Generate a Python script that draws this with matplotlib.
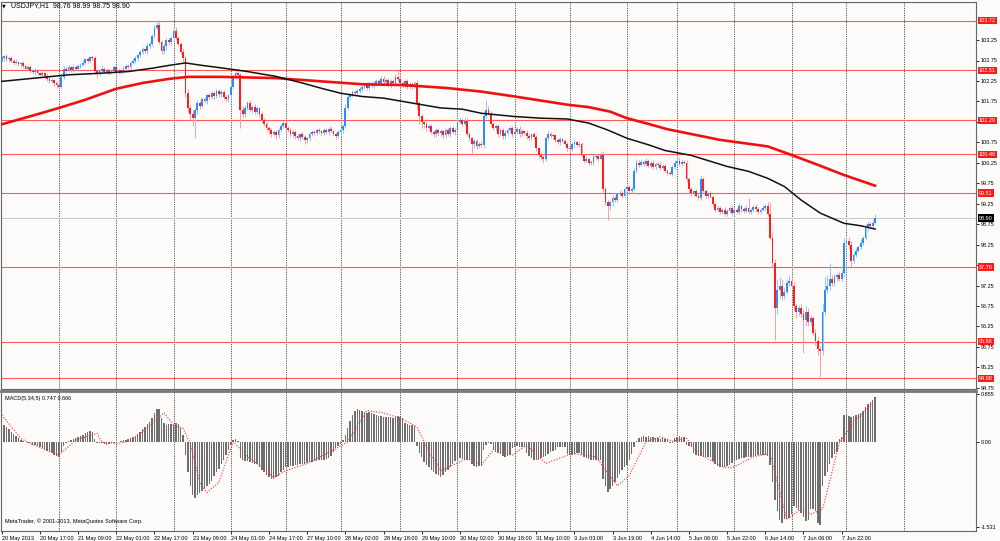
import matplotlib
matplotlib.use("Agg")
import matplotlib.pyplot as plt
from matplotlib.transforms import blended_transform_factory
import numpy as np

plt.rcParams['font.family'] = ['Liberation Sans', 'DejaVu Sans']

# USDJPY H1, 20 May - 7 Jun 2013, one value per hourly bar
first_open = 102.76
closes = [
    102.80, 102.85, 102.78, 102.82, 102.75, 102.70, 102.72, 102.66, 102.68, 102.62, 102.55, 102.58, 102.50, 102.46, 102.52, 102.44,
    102.40, 102.45, 102.38, 102.30, 102.25, 102.28, 102.20, 102.15, 102.10, 102.35, 102.55, 102.50, 102.58, 102.52, 102.60, 102.55,
    102.62, 102.65, 102.70, 102.78, 102.75, 102.83, 102.80, 102.50, 102.42, 102.50, 102.55, 102.48, 102.52, 102.45, 102.50, 102.58,
    102.46, 102.52, 102.48, 102.55, 102.62, 102.58, 102.70, 102.75, 102.80, 102.88, 102.95, 103.02, 102.98, 103.10, 103.15, 103.35,
    103.55, 103.62, 103.20, 102.98, 103.10, 103.25, 103.20, 103.30, 103.48, 103.30, 103.15, 102.95, 102.80, 101.95, 101.60, 101.45,
    101.35, 101.55, 101.72, 101.65, 101.80, 101.75, 101.90, 101.85, 101.95, 101.88, 102.00, 101.92, 101.98, 101.85, 101.80, 101.90,
    102.10, 102.35, 102.45, 102.40, 101.55, 101.45, 101.60, 101.70, 101.55, 101.62, 101.50, 101.58, 101.45, 101.30, 101.20, 101.10,
    101.05, 100.95, 101.00, 100.92, 101.05, 101.15, 101.22, 101.10, 101.05, 100.95, 101.00, 100.90, 100.85, 100.95, 100.88, 100.80,
    100.85, 100.95, 101.00, 100.98, 101.05, 101.02, 100.98, 101.05, 101.00, 101.08, 101.02, 100.95, 100.90, 101.00, 101.05, 101.15,
    101.60, 101.85, 101.90, 101.98, 101.95, 102.00, 102.05, 102.10, 102.15, 102.08, 102.20, 102.12, 102.18, 102.25, 102.20, 102.30,
    102.22, 102.28, 102.15, 102.25, 102.20, 102.35, 102.30, 102.20, 102.15, 102.25, 102.10, 102.18, 102.12, 102.20, 101.70, 101.40,
    101.25, 101.20, 101.10, 101.15, 101.00, 100.95, 101.05, 100.98, 101.02, 100.92, 101.05, 100.95, 101.10, 101.00, 101.05, 101.25,
    101.30, 101.20, 101.28, 100.95, 100.85, 100.70, 100.78, 100.65, 100.72, 100.68, 101.40, 101.55, 101.45, 101.20, 101.10, 101.15,
    100.95, 101.05, 100.90, 100.98, 101.05, 101.10, 100.95, 101.00, 101.08, 100.95, 101.02, 100.98, 100.90, 100.85, 100.95, 100.88,
    100.60, 100.45, 100.38, 100.35, 100.85, 100.95, 100.90, 100.92, 100.80, 100.75, 100.82, 100.78, 100.72, 100.60, 100.58, 100.70,
    100.75, 100.68, 100.72, 100.45, 100.30, 100.35, 100.25, 100.28, 100.40, 100.42, 100.35, 100.45, 99.60, 99.30, 99.20, 99.28,
    99.40, 99.35, 99.48, 99.52, 99.45, 99.60, 99.65, 99.55, 99.62, 100.05, 100.25, 100.20, 100.28, 100.22, 100.30, 100.18,
    100.25, 100.15, 100.22, 100.20, 100.12, 100.18, 100.05, 100.00, 99.98, 100.15, 100.25, 100.30, 100.22, 100.28, 100.25, 99.85,
    99.60, 99.50, 99.55, 99.45, 99.40, 99.85, 99.55, 99.45, 99.50, 99.42, 99.25, 99.10, 99.15, 99.05, 99.10, 99.00,
    99.08, 99.15, 99.02, 99.10, 99.05, 99.20, 99.12, 99.08, 99.15, 99.05, 99.10, 99.18, 99.12, 99.05, 99.10, 99.15,
    99.20, 99.00, 98.40, 97.80, 96.70, 97.15, 97.25, 97.00, 97.10, 97.30, 97.35, 97.25, 96.75, 96.60, 96.70, 96.55,
    96.40, 96.60, 96.35, 96.45, 96.10, 95.90, 95.70, 95.65, 96.60, 97.15, 97.25, 97.40, 97.30, 97.45, 97.50, 97.42,
    97.55, 98.30, 98.35, 98.25, 97.85, 98.00, 98.10, 98.20, 98.30, 98.40, 98.65, 98.75, 98.70, 98.78, 98.90,
]
# wick lengths beyond the body, in hundredths of a yen
upper_wick = [
    6, 4, 5, 3, 5, 4, 6, 3, 4, 5, 3, 4, 6, 4, 5, 3,
    4, 5, 3, 6, 4, 5, 3, 4, 5, 8, 6, 4, 5, 3, 6, 4,
    5, 4, 6, 3, 5, 4, 6, 5, 3, 4, 6, 4, 5, 3, 4, 6,
    4, 5, 3, 6, 4, 5, 4, 6, 5, 4, 6, 5, 4, 8, 5, 6,
    8, 10, 12, 6, 5, 4, 6, 5, 4, 8, 6, 5, 10, 8, 10, 6,
    8, 5, 6, 4, 6, 5, 4, 6, 5, 4, 6, 5, 4, 6, 5, 4,
    6, 8, 10, 12, 4, 8, 6, 5, 8, 4, 6, 5, 4, 6, 5, 4,
    5, 4, 6, 5, 4, 6, 4, 5, 4, 6, 5, 4, 5, 4, 6, 5,
    4, 6, 5, 4, 5, 6, 4, 5, 4, 5, 6, 4, 5, 4, 6, 5,
    8, 6, 5, 6, 4, 5, 6, 4, 5, 6, 4, 5, 6, 4, 5, 8,
    6, 5, 4, 6, 5, 8, 17, 6, 5, 4, 6, 5, 4, 6, 8, 6,
    5, 6, 4, 5, 6, 5, 4, 6, 5, 4, 6, 5, 6, 4, 5, 8,
    6, 5, 8, 6, 5, 4, 6, 5, 4, 6, 8, 24, 8, 6, 5, 4,
    6, 5, 4, 6, 5, 4, 6, 5, 4, 6, 5, 4, 6, 5, 4, 6,
    5, 4, 6, 5, 4, 8, 6, 5, 4, 6, 5, 4, 6, 5, 4, 6,
    5, 4, 6, 5, 4, 6, 5, 4, 6, 5, 4, 6, 8, 6, 5, 4,
    6, 5, 4, 6, 5, 4, 6, 5, 4, 8, 10, 6, 5, 4, 6, 5,
    4, 6, 5, 4, 6, 5, 4, 6, 5, 4, 6, 8, 10, 6, 5, 8,
    6, 5, 4, 6, 5, 10, 6, 5, 4, 6, 5, 4, 6, 5, 4, 6,
    5, 4, 6, 5, 4, 6, 5, 4, 6, 25, 5, 4, 6, 5, 4, 6,
    5, 8, 28, 15, 10, 25, 20, 15, 10, 12, 15, 10, 8, 6, 8, 10,
    12, 15, 10, 8, 6, 8, 10, 6, 20, 30, 25, 40, 10, 8, 6, 10,
    8, 12, 10, 8, 10, 8, 6, 5, 8, 6, 10, 8, 6, 8, 9,
]
lower_wick = [
    4, 5, 3, 6, 4, 5, 3, 4, 6, 5, 4, 3, 5, 4, 6, 5,
    4, 3, 5, 4, 6, 5, 8, 6, 5, 4, 6, 5, 4, 6, 5, 4,
    6, 5, 4, 3, 5, 6, 4, 8, 10, 6, 5, 4, 6, 5, 4, 5,
    6, 4, 5, 3, 6, 4, 5, 4, 6, 5, 4, 5, 4, 6, 5, 4,
    6, 5, 4, 8, 6, 10, 8, 6, 5, 6, 4, 5, 8, 10, 12, 15,
    20, 49, 10, 8, 6, 5, 6, 4, 5, 6, 4, 5, 6, 5, 4, 6,
    5, 4, 6, 5, 45, 10, 8, 6, 5, 8, 6, 5, 8, 6, 5, 8,
    10, 6, 5, 8, 6, 4, 5, 6, 5, 4, 6, 8, 5, 6, 4, 8,
    6, 5, 4, 6, 5, 4, 6, 5, 4, 6, 5, 4, 6, 5, 4, 6,
    5, 6, 4, 5, 6, 4, 5, 6, 4, 5, 6, 4, 5, 6, 4, 5,
    6, 4, 5, 6, 4, 5, 6, 4, 5, 6, 4, 5, 6, 4, 15, 20,
    15, 10, 8, 6, 5, 8, 6, 5, 8, 6, 5, 4, 6, 5, 6, 4,
    5, 6, 4, 5, 6, 20, 8, 6, 5, 4, 6, 5, 4, 6, 5, 8,
    6, 5, 8, 6, 5, 4, 6, 5, 4, 6, 5, 4, 6, 5, 4, 6,
    5, 8, 6, 10, 6, 5, 4, 6, 5, 4, 6, 5, 4, 6, 5, 4,
    6, 5, 4, 6, 5, 4, 6, 5, 8, 6, 5, 4, 6, 8, 35, 10,
    8, 6, 5, 4, 6, 5, 4, 6, 5, 4, 6, 5, 4, 6, 5, 4,
    6, 5, 4, 6, 5, 4, 6, 5, 4, 6, 5, 4, 6, 5, 4, 6,
    8, 6, 5, 4, 6, 5, 4, 6, 5, 4, 8, 6, 5, 4, 6, 5,
    4, 6, 5, 4, 6, 5, 8, 6, 5, 4, 6, 5, 4, 6, 5, 4,
    6, 5, 4, 10, 78, 15, 20, 10, 8, 6, 5, 8, 10, 15, 10, 8,
    80, 15, 10, 8, 6, 10, 15, 63, 10, 6, 8, 10, 6, 5, 8, 6,
    5, 8, 6, 10, 15, 6, 5, 4, 6, 5, 4, 6, 5, 4, 3,
]

# moving averages (bar index, price)
ma_black_bars = [0, 14, 28, 42, 53, 63, 70, 77, 84, 92, 103, 115, 126, 134, 142, 151, 160, 168, 176, 184, 193, 201,
                 215, 226, 237, 246, 254, 262, 271, 278, 289, 304, 313, 321, 328, 335, 343, 353, 360, 366]
ma_black_vals = [102.24, 102.32, 102.40, 102.44, 102.48, 102.56, 102.63, 102.69, 102.63, 102.57, 102.48, 102.36, 102.20,
                 102.07, 101.95, 101.87, 101.83, 101.75, 101.67, 101.59, 101.56, 101.46, 101.38, 101.34, 101.32, 101.22,
                 101.05, 100.85, 100.69, 100.55, 100.43, 100.16, 100.04, 99.87, 99.67, 99.34, 99.02, 98.77, 98.71, 98.63]
ma_red_bars = [0, 14, 24, 35, 48, 59, 70, 78, 92, 115, 134, 151, 168, 186, 201, 215, 226, 237, 246, 255, 262, 271,
               279, 301, 311, 321, 331, 342, 353, 366]
ma_red_vals = [101.19, 101.42, 101.59, 101.79, 102.06, 102.20, 102.30, 102.35, 102.35, 102.32, 102.24, 102.17, 102.15,
               102.08, 101.99, 101.87, 101.77, 101.67, 101.61, 101.50, 101.34, 101.20, 101.07, 100.81, 100.73, 100.65,
               100.44, 100.20, 99.95, 99.69]

levels = [103.72, 102.51, 101.29, 100.46, 99.51, 97.70, 95.88, 94.98]
last_price = 98.90
price_ticks = [94.75, 95.25, 95.75, 96.25, 96.75, 97.25, 97.75, 98.25, 98.75, 99.25, 99.75,
               100.25, 100.75, 101.25, 101.75, 102.25, 102.75, 103.25]
hidden_ticks = [97.75, 101.25]   # covered by level boxes in the terminal

# MACD(5,34,5) histogram, one per bar
macd_hist = [
    0.33, 0.30, 0.26, 0.22, 0.18, 0.14, 0.10, 0.07, 0.04, 0.01, -0.01, -0.02, -0.03, -0.05, -0.06, -0.08,
    -0.10, -0.12, -0.14, -0.16, -0.18, -0.21, -0.24, -0.26, -0.27, -0.18, -0.08, -0.03, 0.01, 0.03, 0.05, 0.06,
    0.08, 0.10, 0.12, 0.15, 0.17, 0.19, 0.18, 0.05, -0.03, -0.03, -0.02, -0.04, -0.05, -0.04, -0.03, -0.02,
    -0.01, 0.00, 0.01, 0.03, 0.04, 0.05, 0.06, 0.08, 0.10, 0.14, 0.18, 0.23, 0.27, 0.31, 0.36, 0.42,
    0.52, 0.58, 0.58, 0.42, 0.33, 0.30, 0.32, 0.31, 0.30, 0.33, 0.31, 0.24, 0.12, -0.24, -0.55, -0.80,
    -0.95, -1.00, -0.96, -0.92, -0.88, -0.84, -0.80, -0.76, -0.70, -0.62, -0.55, -0.48, -0.40, -0.32, -0.24, -0.15,
    -0.06, 0.04, 0.05, 0.02, -0.30, -0.33, -0.34, -0.35, -0.37, -0.38, -0.39, -0.39, -0.45, -0.50, -0.55, -0.60,
    -0.64, -0.67, -0.66, -0.64, -0.62, -0.55, -0.50, -0.46, -0.45, -0.44, -0.43, -0.42, -0.41, -0.40, -0.39, -0.39,
    -0.38, -0.37, -0.36, -0.35, -0.34, -0.33, -0.33, -0.32, -0.31, -0.30, -0.25, -0.18, -0.12, -0.08, -0.04, 0.04,
    0.12, 0.25, 0.38, 0.48, 0.55, 0.58, 0.57, 0.55, 0.53, 0.52, 0.53, 0.51, 0.50, 0.48, 0.47, 0.46,
    0.45, 0.44, 0.45, 0.44, 0.43, 0.45, 0.46, 0.45, 0.43, 0.33, 0.31, 0.30, 0.30, 0.28, -0.08, -0.20,
    -0.28, -0.36, -0.42, -0.46, -0.50, -0.54, -0.58, -0.60, -0.64, -0.60, -0.55, -0.50, -0.45, -0.40, -0.35, -0.32,
    -0.30, -0.31, -0.32, -0.32, -0.33, -0.40, -0.44, -0.45, -0.44, -0.43, -0.15, -0.05, -0.03, -0.04, -0.15, -0.18,
    -0.20, -0.22, -0.25, -0.27, -0.26, -0.24, -0.12, -0.09, -0.08, -0.09, -0.10, -0.09, -0.20, -0.26, -0.30, -0.33,
    -0.33, -0.32, -0.30, -0.28, -0.25, -0.22, -0.19, -0.17, -0.15, -0.10, -0.09, -0.09, -0.10, -0.22, -0.23, -0.23,
    -0.22, -0.21, -0.20, -0.24, -0.28, -0.30, -0.31, -0.33, -0.32, -0.33, -0.34, -0.33, -0.67, -0.80, -0.90, -0.85,
    -0.80, -0.72, -0.65, -0.58, -0.50, -0.45, -0.42, -0.32, -0.22, -0.10, 0.02, 0.07, 0.09, 0.10, 0.09, 0.10,
    0.09, 0.08, 0.07, 0.06, 0.05, 0.06, 0.05, 0.04, -0.03, -0.03, 0.07, 0.09, 0.10, 0.09, 0.08, -0.06,
    -0.08, -0.10, -0.20, -0.24, -0.25, -0.26, -0.27, -0.27, -0.28, -0.28, -0.35, -0.40, -0.43, -0.45, -0.46, -0.45,
    -0.44, -0.42, -0.38, -0.35, -0.33, -0.31, -0.30, -0.29, -0.28, -0.28, -0.27, -0.26, -0.25, -0.24, -0.24, -0.23,
    -0.24, -0.25, -0.42, -0.73, -1.05, -1.25, -1.40, -1.45, -1.39, -1.38, -1.36, -1.30, -1.15, -1.18, -1.22, -1.27,
    -1.35, -1.42, -1.40, -1.21, -1.20, -1.25, -1.45, -1.50, -0.79, -0.62, -0.55, -0.40, -0.30, -0.22, -0.18, 0.05,
    0.09, 0.48, 0.49, 0.47, 0.45, 0.46, 0.48, 0.50, 0.52, 0.55, 0.62, 0.67, 0.71, 0.75, 0.80,
]
signal_bars = [0, 8, 13, 24, 31, 40, 42, 49, 55, 63, 68, 72, 76, 79, 83, 86, 91, 97, 103, 110, 114, 119, 128, 139, 145,
               153, 160, 167, 174, 179, 184, 195, 201, 207, 214, 220, 228, 239, 249, 258, 263, 270, 276, 281, 287, 292,
               302, 306, 315, 322, 329, 335, 339, 344, 351, 357, 365]
signal_vals = [0.48, 0.06, -0.05, -0.24, 0.03, 0.15, -0.01, -0.03, 0.03, 0.33, 0.52, 0.30, 0.24, -0.03, -0.73, -0.91,
               -0.73, 0.00, -0.27, -0.48, -0.64, -0.52, -0.39, -0.15, 0.00, 0.56, 0.52, 0.42, 0.27, -0.18, -0.52, -0.30,
               -0.42, -0.09, -0.24, -0.06, -0.39, -0.21, -0.27, -0.79, -0.61, 0.00, 0.09, 0.01, 0.06, -0.21, -0.45, -0.47,
               -0.27, -0.21, -1.39, -1.21, -1.30, -1.21, -0.03, 0.36, 0.70]
macd_ticks = [0.855, 0.0, -1.531]

time_labels = ['20 May 2013', '20 May 17:00', '21 May 09:00', '22 May 01:00', '22 May 17:00', '23 May 09:00',
               '24 May 01:00', '24 May 17:00', '27 May 10:00', '28 May 02:00', '28 May 18:00', '29 May 10:00',
               '30 May 02:00', '30 May 18:00', '31 May 10:00', '3 Jun 03:00', '3 Jun 19:00', '4 Jun 14:00',
               '5 Jun 06:00', '5 Jun 22:00', '6 Jun 14:00', '7 Jun 06:00', '7 Jun 22:00']
label_every = 16
day_starts = [24, 48, 72, 96, 119, 142, 167, 191, 215, 238, 262, 283, 307, 331, 354, 378]

# ---- derived candle geometry ----
closes = np.array(closes)
opens = np.concatenate([[first_open], closes[:-1]])
highs = np.maximum(opens, closes) + np.array(upper_wick) / 100
lows = np.minimum(opens, closes) - np.array(lower_wick) / 100
bars = np.arange(len(closes))
up = closes >= opens

bg = '#fdfafa'
small = 4.0
W, H = 1000, 541
fig = plt.figure(figsize=(W / 100, H / 100), dpi=100, facecolor=bg)
ax = fig.add_axes([1 / W, 1 - 389 / H, 975 / W, 387 / H], facecolor=bg)
ax2 = fig.add_axes([1 / W, 1 - 531 / H, 975 / W, 140 / H], facecolor=bg)

xlim = (-0.3, 408.3)
for a in (ax, ax2):
    a.set_xlim(*xlim)
    for d in day_starts:
        a.axvline(d, color='#555555', ls=(0, (1.2, 1.2)), lw=0.7, zorder=1)
    for s in a.spines.values():
        s.set_color('#666666')
        s.set_linewidth(0.8)
    a.yaxis.tick_right()
    a.tick_params(axis='y', length=2, width=0.6, pad=1.5, labelsize=small, colors='black')

# ---- price panel ----
ax.set_ylim(94.72, 104.18)
for lv in levels:
    ax.axhline(lv, color='#ff5a5a', lw=0.8, zorder=1.5)
ax.axhline(last_price, color='#c8c8c8', lw=0.7, zorder=1.5)

ax.vlines(bars[up], lows[up], highs[up], color='#8ec5ff', lw=0.7, zorder=2)
ax.vlines(bars[~up], lows[~up], highs[~up], color='#ff9c9c', lw=0.7, zorder=2)
ax.bar(bars[up], (closes - opens)[up], bottom=opens[up], width=0.75, color='#2b8cff', lw=0, zorder=3)
ax.bar(bars[~up], (closes - opens)[~up], bottom=opens[~up], width=0.75, color='#ff1e1e', lw=0, zorder=3)

ax.plot(ma_red_bars, ma_red_vals, color='#ee1111', lw=1.9, zorder=4, solid_joinstyle='round')
ax.plot(ma_black_bars, ma_black_vals, color='#111111', lw=1.1, zorder=4.5, solid_joinstyle='round')

ax.set_xticks([])
ax.set_yticks(price_ticks)
ax.set_yticklabels(['' if t in hidden_ticks else f'{t:.2f}' for t in price_ticks])

trans = blended_transform_factory(ax.transAxes, ax.transData)
for lv in levels:
    ax.text(1.003, lv, f'{lv:.2f}', transform=trans, ha='left', va='center', fontsize=small,
            color='white', clip_on=False, zorder=6,
            bbox=dict(boxstyle='square,pad=0.2', fc='#ff1a1a', ec='none'))
ax.text(1.003, last_price, f'{last_price:.2f}', transform=trans, ha='left', va='center', fontsize=small,
        color='white', clip_on=False, zorder=6,
        bbox=dict(boxstyle='square,pad=0.2', fc='#000000', ec='none'))

fig.text(2 / W, 1 - 6 / H, '\u25bc', fontsize=3.5, va='center', ha='left', family=['DejaVu Sans'])
fig.text(11 / W, 1 - 6 / H, 'USDJPY,H1  98.76 98.99 98.75 98.90', fontsize=5.0, va='center', ha='left')

# ---- MACD panel ----
ax2.set_ylim(-1.60, 0.91)
ax2.bar(bars, macd_hist, width=0.6, color='#6e6e6e', lw=0, zorder=2)
ax2.plot(signal_bars, signal_vals, color='#ff3030', lw=0.8, ls=(0, (1, 1.5)), zorder=3)
ax2.spines['top'].set_linewidth(2.0)
ax2.spines['top'].set_color('#777777')
ax2.set_yticks(macd_ticks)
ax2.set_yticklabels(['0.855', '0.00', '-1.531'])

label_bars = [k * label_every for k in range(len(time_labels))]
ax2.set_xticks(label_bars)
ax2.set_xticklabels(time_labels, ha='left')
ax2.tick_params(axis='x', length=2, width=0.6, pad=1.5, labelsize=small, colors='black')

ax2.text(0.004, 0.965, 'MACD(5,34,5) 0.747 0.666', transform=ax2.transAxes, fontsize=small, va='top', ha='left')
ax2.text(0.004, 0.05, 'MetaTrader, \u00a9 2001-2013, MetaQuotes Software Corp.', transform=ax2.transAxes,
         fontsize=4.1, va='bottom', ha='left')

fig.savefig('out.png', dpi=100, facecolor=bg)
